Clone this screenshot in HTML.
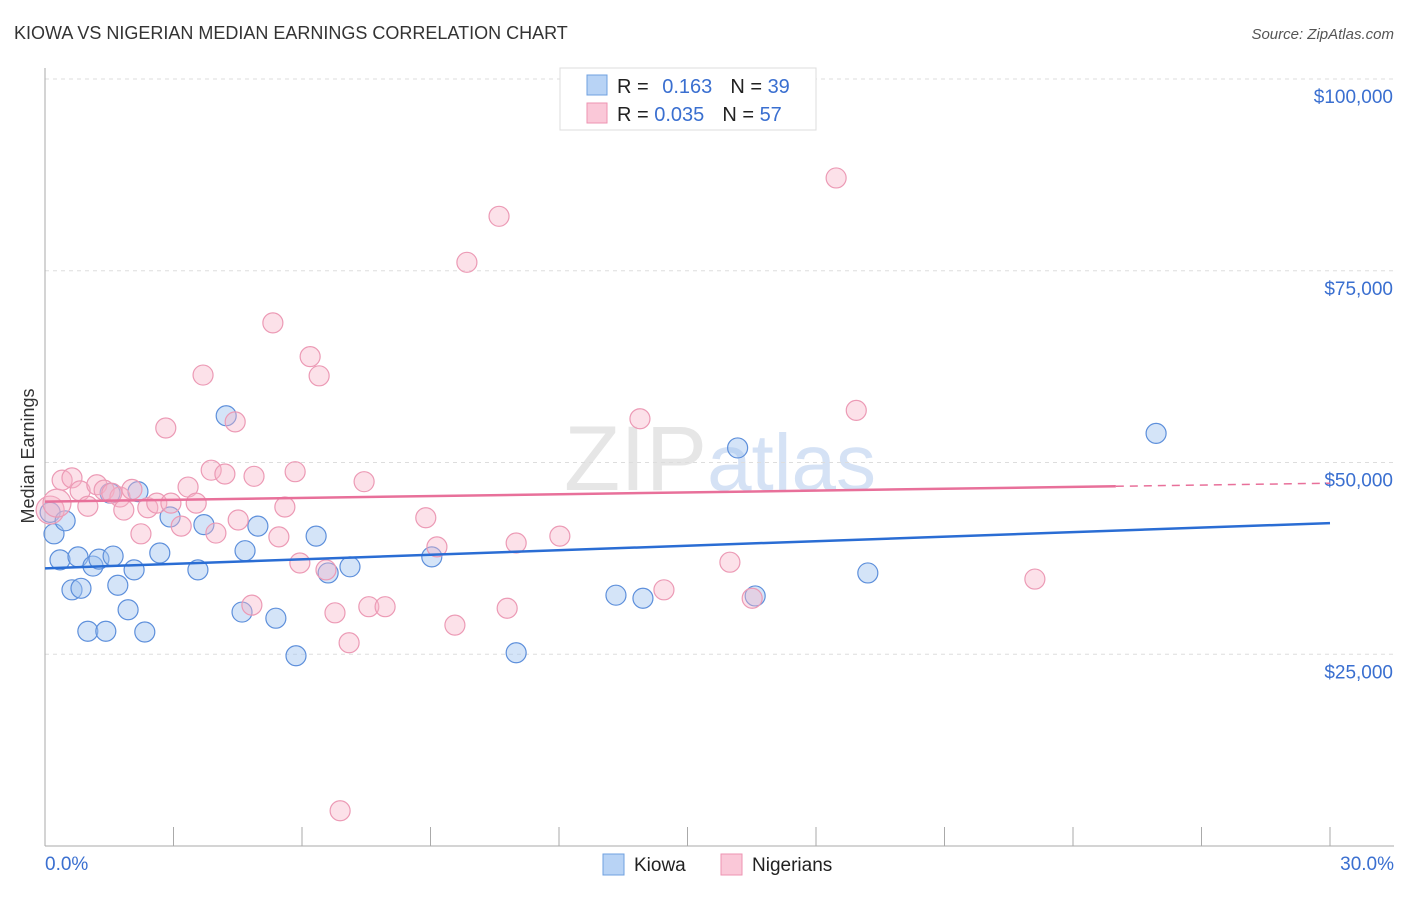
<!DOCTYPE html>
<html><head><meta charset="utf-8"><style>
body{margin:0;background:#fff;font-family:"Liberation Sans",sans-serif}
svg text{font-family:"Liberation Sans",sans-serif}
</style></head><body>
<svg id="chart" width="1406" height="892" viewBox="0 0 1406 892" xmlns="http://www.w3.org/2000/svg">
<text x="14" y="39" font-size="18" fill="#333">KIOWA VS NIGERIAN MEDIAN EARNINGS CORRELATION CHART</text>
<text x="1394" y="39" font-size="15" fill="#555" text-anchor="end" font-style="italic">Source: ZipAtlas.com</text>
<text x="720" y="490" font-size="92" fill="#e6e6e6" text-anchor="middle" font-family="Liberation Serif">ZIP<tspan fill="#d5e2f5" font-family="Liberation Sans" font-size="80">atlas</tspan></text>
<g id="grid"></g>
<g id="axes"></g>
<g id="pts"></g>
<g id="trend"></g>
<text transform="translate(34,456) rotate(-90)" font-size="18" fill="#333" text-anchor="middle">Median Earnings</text>
<g>
<rect x="560" y="68" width="256" height="62" fill="#fff" stroke="#ddd"/>
<rect x="587" y="75" width="20" height="20" fill="#b8d3f5" stroke="#6fa0e0"/>
<rect x="587" y="103" width="20" height="20" fill="#fac8d8" stroke="#ee93b2"/>
<text x="617" y="93" font-size="20" fill="#222">R = <tspan fill="#3a6fd0" dx="8">0.163</tspan><tspan dx="18" fill="#222">N = </tspan><tspan fill="#3a6fd0">39</tspan></text>
<text x="617" y="121" font-size="20" fill="#222">R = <tspan fill="#3a6fd0">0.035</tspan><tspan dx="18" fill="#222">N = </tspan><tspan fill="#3a6fd0">57</tspan></text>
</g>
<g>
<rect x="603" y="854" width="21" height="21" fill="#b8d3f5" stroke="#6fa0e0"/>
<text x="634" y="871" font-size="19" fill="#222">Kiowa</text>
<rect x="721" y="854" width="21" height="21" fill="#fac8d8" stroke="#ee93b2"/>
<text x="752" y="871" font-size="19" fill="#222">Nigerians</text>
</g>
<text x="45" y="870" font-size="19" fill="#3a6fd0">0.0%</text>
<text x="1394" y="870" font-size="19" fill="#3a6fd0" text-anchor="end">30.0%</text>
</svg>
<script>
const kiowaX=[0.12,0.21,0.47,0.35,0.77,1.12,1.26,1.59,0.63,0.84,1.70,2.08,1.00,1.42,2.33,1.94,2.17,2.68,2.92,3.57,3.71,4.23,4.67,4.97,4.60,5.39,5.86,6.33,6.61,7.12,9.03,11.00,13.33,13.96,16.17,16.58,19.21,25.94,1.52];
const kiowaY=[43.5,40.7,42.4,37.3,37.7,36.5,37.4,37.8,33.4,33.6,34.0,36.0,28.0,28.0,27.9,30.8,46.2,38.2,42.9,36.0,41.9,56.1,38.5,41.7,30.5,29.7,24.8,40.4,35.6,36.4,37.7,25.2,32.7,32.3,51.9,32.6,35.6,53.8,46.0];
const nigX=[0.12,0.28,0.40,0.63,0.82,1.00,1.21,1.38,1.75,1.84,2.03,2.24,2.40,2.61,2.82,2.94,3.18,3.34,3.53,3.69,3.88,3.99,4.20,4.44,4.51,4.88,4.83,5.32,5.46,5.60,5.84,5.95,6.19,6.40,6.56,6.77,7.10,6.89,7.45,7.56,7.94,8.89,9.15,9.57,9.85,10.60,10.79,11.00,12.02,13.89,14.45,15.99,16.51,18.47,18.94,23.11,1.56];
const nigY=[43.8,44.7,47.7,48.0,46.3,44.3,47.1,46.4,45.5,43.8,46.5,40.7,44.1,44.7,54.5,44.7,41.7,46.8,44.7,61.4,49.0,40.8,48.5,55.3,42.5,48.2,31.4,68.2,40.3,44.2,48.8,36.9,63.8,61.3,36.0,30.4,26.5,4.6,47.5,31.2,31.2,42.8,39.0,28.8,76.1,82.1,31.0,39.5,40.4,55.7,33.4,37.0,32.3,87.1,56.8,34.8,46.0];
const nigSize=[14,14];
const yTicks=[25,50,75,100];
const yTickLabels=["$25,000","$50,000","$75,000","$100,000"];
const xTicks=[0,3,6,9,12,15,18,21,24,27,30];
const kiowaTrend=[[0,36.2],[30,42.1]];
const nigTrend=[[0,44.9],[25,46.9],[30,47.3]];
const NS="http://www.w3.org/2000/svg";
const sx=v=>45+v/30*1285;
const sy=v=>846-v/100*767;
function mk(t,a,p){const e=document.createElementNS(NS,t);for(const k in a)e.setAttribute(k,a[k]);p.appendChild(e);return e;}
const grid=document.getElementById('grid'),axes=document.getElementById('axes'),pts=document.getElementById('pts'),tr=document.getElementById('trend');
yTicks.forEach((v,i)=>{
 const l=mk('line',{x1:45,x2:1394,y1:sy(v),y2:sy(v),stroke:'#ddd','stroke-dasharray':'4,4'},grid);
 
 
 const t=mk('text',{x:1393,y:sy(v)+24,'font-size':19,fill:'#3a6fd0','text-anchor':'end'},grid);
 t.textContent=yTickLabels[i];
 
 
});
const ax=mk('line',{x1:45,x2:45,y1:68,y2:846,stroke:'#aaa'},axes);


const bx=mk('line',{x1:45,x2:1394,y1:846,y2:846,stroke:'#aaa'},axes);


xTicks.forEach(v=>{
 const t=mk('line',{x1:sx(v),x2:sx(v),y1:827,y2:846,stroke:'#aaa'},axes);
 
 
});
kiowaX.forEach((x,i)=>{
 const c=mk('circle',{cx:sx(x),cy:sy(kiowaY[i]),r:10,fill:'rgba(160,195,240,0.45)',stroke:'#5d8fdb','stroke-width':1.2},pts);
 
 
});
nigX.forEach((x,i)=>{
 const c=mk('circle',{cx:sx(x),cy:sy(nigY[i]),r:nigSize[i]||10,fill:'rgba(248,180,200,0.4)',stroke:'#ec9ab5','stroke-width':1.2},pts);
 
 
});
const kl=mk('line',{x1:sx(kiowaTrend[0][0]),y1:sy(kiowaTrend[0][1]),x2:sx(kiowaTrend[1][0]),y2:sy(kiowaTrend[1][1]),stroke:'#2a6dd4','stroke-width':2.5},tr);


const nl=mk('line',{x1:sx(nigTrend[0][0]),y1:sy(nigTrend[0][1]),x2:sx(nigTrend[1][0]),y2:sy(nigTrend[1][1]),stroke:'#e8709a','stroke-width':2.5},tr);


const nd=mk('line',{x1:sx(nigTrend[1][0]),y1:sy(nigTrend[1][1]),x2:sx(nigTrend[2][0]),y2:sy(nigTrend[2][1]),stroke:'#e8709a','stroke-width':1.5,'stroke-dasharray':'8,6'},tr);


</script>
</body></html>
